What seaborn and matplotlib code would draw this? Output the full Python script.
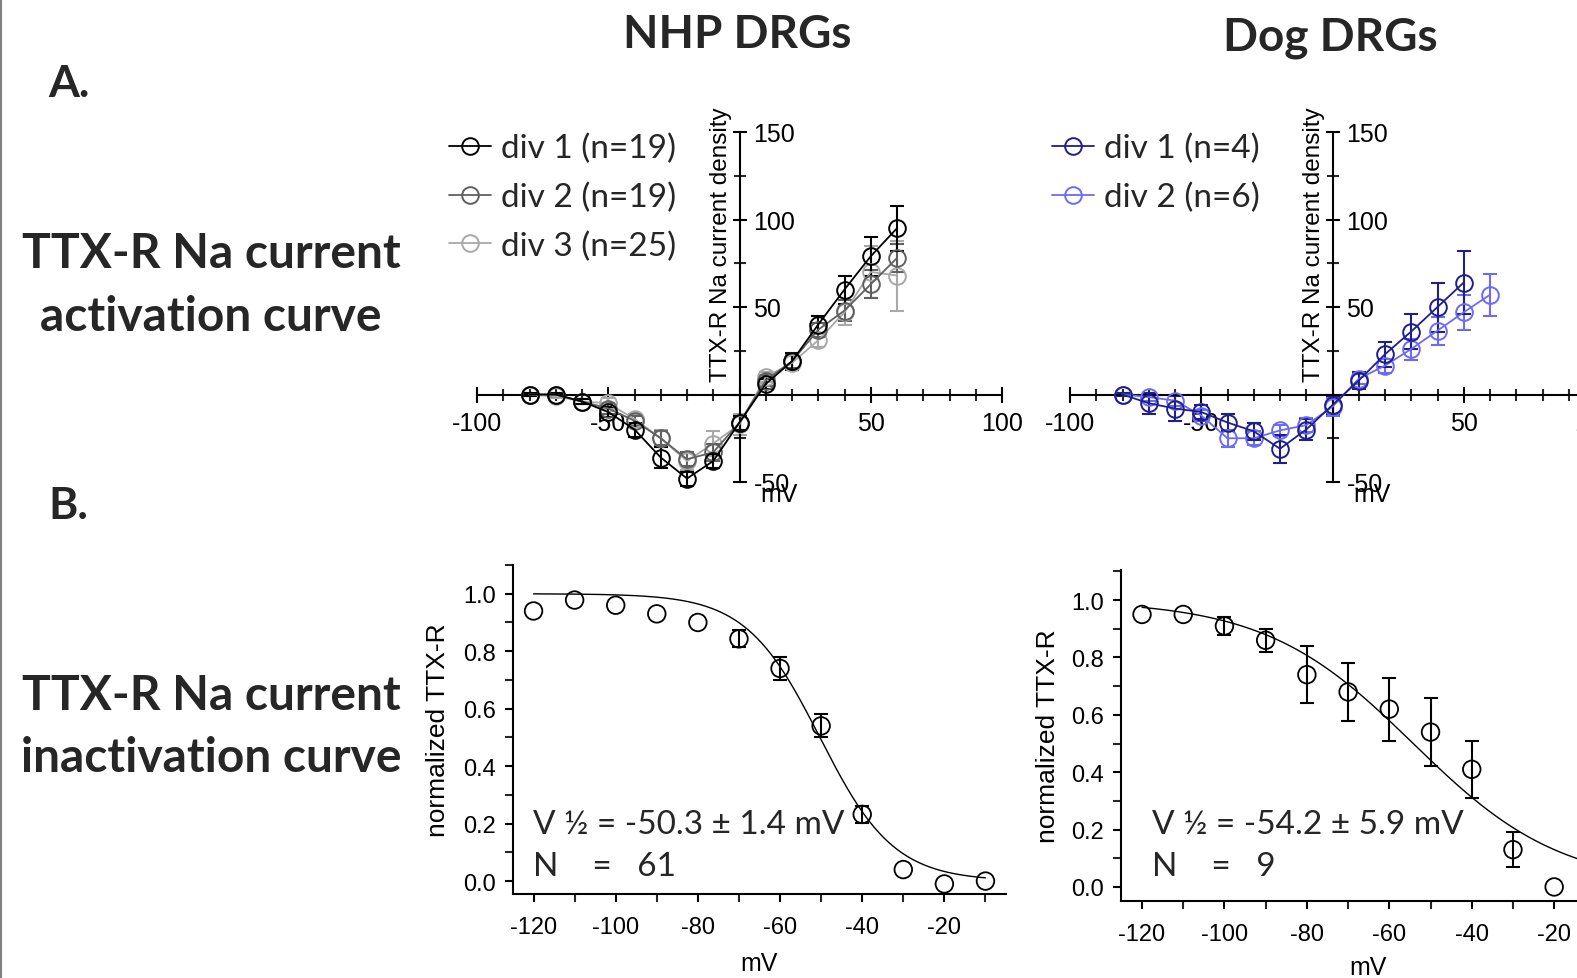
import numpy as np
import pandas as pd
import matplotlib
matplotlib.use("Agg")
import matplotlib.pyplot as plt
import seaborn as sns
from matplotlib.ticker import MultipleLocator, FixedLocator, FixedFormatter
from matplotlib.lines import Line2D

# ---------------- data ----------------
act_volts = [-80, -70, -60, -50, -40, -30, -20, -10, 0, 10, 20, 30, 40, 50, 60]
nhp_div1 = [0, 0, -4, -10, -20, -36, -48, -38, -16, 6, 19, 40, 60, 79, 95]
nhp_div1_err = [1, 1, 1.5, 3, 4, 6, 4, 4, 4, 3, 5, 5, 8, 11, 13]
nhp_div2 = [0, 0, -4, -8, -15, -25, -37, -33, -16, 8, 19, 37, 48, 63, 78]
nhp_div2_err = [1, 1, 1.5, 3, 3, 4, 4, 5, 4, 3, 4, 4, 6, 8, 8]
nhp_div3 = [0, -1, -4, -5, -14, -25, -38, -28, -17, 10, 18, 31, 47, 70, 68]
nhp_div3_err = [1, 1, 1.5, 3, 3, 5, 5, 7, 6, 3, 4, 4, 7, 15, 20]

dog_volts1 = [-80, -70, -60, -50, -40, -30, -20, -10, 0, 10, 20, 30, 40, 50]
dog_div1 = [0, -5, -8, -10, -16, -21, -31, -20, -6, 8, 23, 36, 50, 64]
dog_div1_err = [1, 6, 7, 4, 5, 5, 8, 6, 5, 5, 7, 10, 14, 18]
dog_volts2 = [-80, -70, -60, -50, -40, -30, -20, -10, 0, 10, 20, 30, 40, 50, 60]
dog_div2 = [0, -1.5, -3.5, -12, -25, -25, -20.5, -17.5, -7, 9, 16.5, 26, 36.5, 47, 57]
dog_div2_err = [1, 2, 3, 3, 5, 4, 3, 4, 5, 3, 4, 6, 8, 10, 12]

inact_volts = [-120, -110, -100, -90, -80, -70, -60, -50, -40, -30, -20, -10]
nhp_inact = [0.94, 0.978, 0.96, 0.93, 0.90, 0.843, 0.74, 0.54, 0.232, 0.04, -0.01, 0.0]
nhp_inact_err = [0, 0, 0, 0, 0, 0.03, 0.04, 0.04, 0.03, 0, 0, 0]
dog_inact_volts = [-120, -110, -100, -90, -80, -70, -60, -50, -40, -30, -20]
dog_inact = [0.95, 0.95, 0.91, 0.86, 0.74, 0.68, 0.62, 0.54, 0.41, 0.13, 0.0]
dog_inact_err = [0, 0, 0.03, 0.04, 0.10, 0.10, 0.11, 0.12, 0.10, 0.06, 0]

# Boltzmann fit parameters (V1/2 from the chart text, slope estimated)
nhp_vhalf, nhp_slope = -50.3, 9.0
dog_vhalf, dog_slope = -54.2, 18.0

nhp_labels = ["div 1 (n=19)", "div 2 (n=19)", "div 3 (n=25)"]
dog_labels = ["div 1 (n=4)", "div 2 (n=6)"]
nhp_colors = ["#000000", "#606060", "#a8a8a8"]
dog_colors = ["#1e1e8c", "#6b6bf5"]

# ---------------- style ----------------
sns.set_theme(style="white")
plt.rcParams['font.family'] = ['Liberation Sans', 'DejaVu Sans']
plt.rcParams['axes.unicode_minus'] = False
TITLE_FONT = ['Lato', 'DejaVu Sans']

W, H = 1577, 979
fig = plt.figure(figsize=(W / 100, H / 100), dpi=100)

MK = dict(marker='o', markersize=12, markerfacecolor='none', markeredgewidth=1.4)
LEG = dict(loc='upper left', bbox_transform=fig.transFigure, frameon=False,
           prop={'family': TITLE_FONT, 'size': 24}, handlelength=1.25,
           handletextpad=0.3, labelspacing=0.55, borderpad=0, borderaxespad=0)


def rect(l, t, r, b):
    return [l / W, 1 - b / H, (r - l) / W, (b - t) / H]


def act_panel(rc, series, colors, labels, legend_anchor):
    ax = fig.add_axes(rc)
    ax.set_facecolor('none')
    ax.set_xlim(-100, 100)
    ax.set_ylim(-50, 150)
    for s in ['top', 'left']:
        ax.spines[s].set_visible(False)
    ax.spines['bottom'].set_position(('data', 0))
    ax.spines['right'].set_position(('data', 0))
    for s in ['bottom', 'right']:
        ax.spines[s].set_color('black')
        ax.spines[s].set_linewidth(1.5)
    ax.xaxis.set_ticks_position('bottom')
    ax.yaxis.set_ticks_position('right')
    ax.xaxis.set_major_locator(FixedLocator([-100, -50, 0, 50, 100]))
    ax.xaxis.set_major_formatter(FixedFormatter(['-100', '-50', '', '50', '100']))
    ax.xaxis.set_minor_locator(MultipleLocator(10))
    ax.yaxis.set_major_locator(FixedLocator([-50, 0, 50, 100, 150]))
    ax.yaxis.set_major_formatter(FixedFormatter(['-50', '', '50', '100', '150']))
    ax.yaxis.set_minor_locator(MultipleLocator(25))
    ax.tick_params(axis='x', which='major', direction='inout', length=12, width=1.5,
                   labelsize=18, pad=6, colors='black', bottom=True)
    ax.tick_params(axis='x', which='minor', direction='inout', length=9, width=1.5, bottom=True)
    ax.tick_params(axis='y', which='major', direction='inout', length=10, width=1.5,
                   labelsize=18, pad=5, colors='black', right=True, left=False)
    ax.tick_params(axis='y', which='minor', direction='inout', length=9, width=1.5,
                   right=True, left=False)
    for v, y, e, c in series:
        df = pd.DataFrame({'mV': v, 'I': y})
        ax.errorbar(v, y, yerr=e, fmt='none', ecolor=c, elinewidth=1.5, capsize=5,
                    capthick=1.5, clip_on=False, zorder=2)
        sns.lineplot(data=df, x='mV', y='I', ax=ax, color=c, linewidth=1.3,
                     markeredgecolor=c, clip_on=False, zorder=3, **MK)
    ax.set_xlabel('mV', fontsize=18, color='black')
    ax.xaxis.set_label_coords(0.575, -0.0)
    ax.xaxis.label.set_va('top')
    ax.set_ylabel('TTX-R Na current density', fontsize=17.5, color='black')
    ax.yaxis.set_label_position('left')
    ax.yaxis.set_label_coords(0.485, 0.68)
    handles = [Line2D([], [], color=c, linewidth=1.3, markeredgecolor=c, **MK) for c in colors]
    ax.legend(handles, labels, bbox_to_anchor=legend_anchor, **LEG)
    return ax


act_panel(rect(477, 133, 1002, 483),
          [(act_volts, nhp_div3, nhp_div3_err, nhp_colors[2]),
           (act_volts, nhp_div2, nhp_div2_err, nhp_colors[1]),
           (act_volts, nhp_div1, nhp_div1_err, nhp_colors[0])],
          nhp_colors, nhp_labels, (449 / W, 1 - 134 / H))

act_panel(rect(1070, 133, 1595, 483),
          [(dog_volts2, dog_div2, dog_div2_err, dog_colors[1]),
           (dog_volts1, dog_div1, dog_div1_err, dog_colors[0])],
          dog_colors, dog_labels, (1052 / W, 1 - 134 / H))


def inact_panel(rc, xlim, ylim, v, y, e, vhalf, slope, vend, txt1, txt2, tx, ty1, ty2,
                ylab_x, xlab_y):
    ax = fig.add_axes(rc)
    ax.set_facecolor('none')
    ax.set_xlim(*xlim)
    ax.set_ylim(*ylim)
    for s in ['top', 'right']:
        ax.spines[s].set_visible(False)
    for s in ['bottom', 'left']:
        ax.spines[s].set_color('black')
        ax.spines[s].set_linewidth(1.5)
    ax.xaxis.set_major_locator(FixedLocator([-120, -100, -80, -60, -40, -20]))
    ax.xaxis.set_minor_locator(MultipleLocator(10))
    ax.yaxis.set_major_locator(FixedLocator([0.0, 0.2, 0.4, 0.6, 0.8, 1.0]))
    ax.yaxis.set_minor_locator(MultipleLocator(0.1))
    ax.yaxis.set_major_formatter(matplotlib.ticker.FormatStrFormatter('%.1f'))
    ax.tick_params(axis='both', which='major', direction='out', length=6, width=1.5,
                   labelsize=17, colors='black', bottom=True, left=True)
    ax.tick_params(axis='x', which='major', pad=10)
    ax.tick_params(axis='y', which='major', pad=6)
    ax.tick_params(axis='both', which='minor', direction='out', length=6, width=1.5,
                   bottom=True, left=True)
    fv = np.linspace(-120, vend, 300)
    fit = 1.0 / (1.0 + np.exp((fv - vhalf) / slope))
    sns.lineplot(x=fv, y=fit, ax=ax, color='black', linewidth=1.0, zorder=2)
    v = np.array(v); y = np.array(y); e = np.array(e)
    m = e > 0
    ax.errorbar(v[m], y[m], yerr=e[m], fmt='none', ecolor='black', elinewidth=1.5,
                capsize=5, capthick=1.5, zorder=3)
    sns.scatterplot(x=v, y=y, ax=ax, s=160, marker='o', facecolor='none',
                    edgecolor='black', linewidth=1.3, zorder=4, clip_on=False)
    ax.set_xlabel('mV', fontsize=18, color='black')
    ax.xaxis.set_label_coords(0.5, xlab_y)
    ax.xaxis.label.set_va('top')
    ax.set_ylabel('normalized TTX-R', fontsize=19, color='black')
    ax.yaxis.set_label_coords(ylab_x, 0.5)
    ax.text(tx, ty1, txt1, fontsize=24, family=TITLE_FONT, va='center', ha='left')
    ax.text(tx, ty2, txt2, fontsize=24, family=TITLE_FONT, va='center', ha='left')
    return ax


inact_panel(rect(513, 566, 1006, 895), (-125, -5), (-0.045, 1.10),
            inact_volts, nhp_inact, nhp_inact_err, nhp_vhalf, nhp_slope, -10,
            "V ½ = -50.3 ± 1.4 mV", "N    =   61", -120.2, 0.199, 0.052, -0.128, -0.172)
inact_panel(rect(1121, 571, 1616, 902), (-125.1, -5), (-0.049, 1.105),
            dog_inact_volts, dog_inact, dog_inact_err, dog_vhalf, dog_slope, -5,
            "V ½ = -54.2 ± 5.9 mV", "N    =   9", -117.6, 0.22, 0.073, -0.123, -0.162)

# ---------------- figure texts ----------------
fig.text(737 / W, 1 - 35 / H, "NHP DRGs", ha='center', va='center', fontsize=33,
         fontweight='bold', family=TITLE_FONT)
fig.text(1330 / W, 1 - 38 / H, "Dog DRGs", ha='center', va='center', fontsize=33,
         fontweight='bold', family=TITLE_FONT)
fig.text(69 / W, 1 - 84 / H, "A.", ha='center', va='center', fontsize=32,
         fontweight='bold', family=TITLE_FONT)
fig.text(68 / W, 1 - 506 / H, "B.", ha='center', va='center', fontsize=32,
         fontweight='bold', family=TITLE_FONT)
for txt, yc in [("TTX-R Na current", 254), ("activation curve", 317),
                ("TTX-R Na current", 696), ("inactivation curve", 758)]:
    fig.text(211 / W, 1 - yc / H, txt, ha='center', va='center', fontsize=34.5,
             fontweight='bold', family=TITLE_FONT)

fig.add_artist(Line2D([0.0008, 0.0008], [0, 1], transform=fig.transFigure,
                      color='#808080', linewidth=1.5))

fig.savefig("out.png", dpi=100)
